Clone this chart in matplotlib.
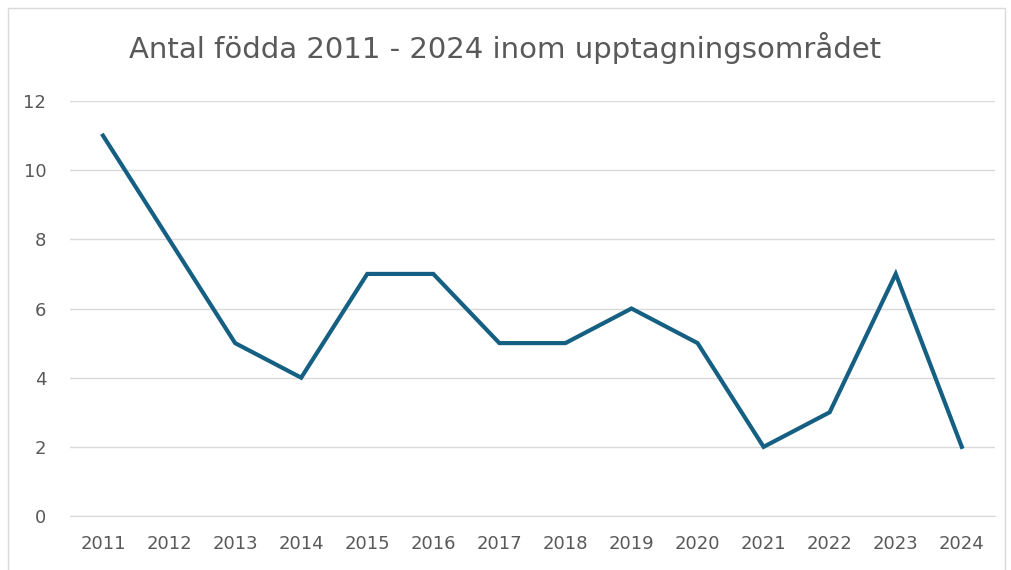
import matplotlib
matplotlib.use("Agg")
import matplotlib.pyplot as plt
from matplotlib.patches import Rectangle

# data
years = ["2011", "2012", "2013", "2014", "2015", "2016", "2017",
         "2018", "2019", "2020", "2021", "2022", "2023", "2024"]
births = [11, 8, 5, 4, 7, 7, 5, 5, 6, 5, 2, 3, 7, 2]
yticks = [0, 2, 4, 6, 8, 10, 12]

grey = "#595959"

fig = plt.figure(figsize=(10.11, 5.7), dpi=100)
ax = fig.add_axes([0.0692, 0.0947, 0.9148, 0.7281])

# ram runt diagrammet
fig.patches.append(Rectangle((8 / 1011, -0.1), 997 / 1011, 1.1 - 8 / 570,
                             transform=fig.transFigure, fill=False,
                             edgecolor="#d9d9d9", linewidth=1))

x = range(len(years))
ax.plot(x, births, color="#156082", linewidth=3, solid_joinstyle="miter")

ax.set_xlim(-0.5, len(years) - 0.5)
ax.set_ylim(0, 12)
ax.set_yticks(yticks)
ax.set_xticks(list(x))
ax.set_xticklabels(years)
ax.grid(axis="y", color="#d9d9d9", linewidth=1)
ax.set_axisbelow(True)
for s in ["top", "right", "left"]:
    ax.spines[s].set_visible(False)
ax.spines["bottom"].set_color("#d9d9d9")
ax.tick_params(axis="both", length=0, labelsize=13, colors=grey)
ax.tick_params(axis="x", pad=14)
ax.tick_params(axis="y", pad=17)

fig.text(0.5, 0.916, "Antal födda 2011 - 2024 inom upptagningsområdet",
         ha="center", va="center", fontsize=21, color=grey)

fig.savefig("out.png", dpi=100)
